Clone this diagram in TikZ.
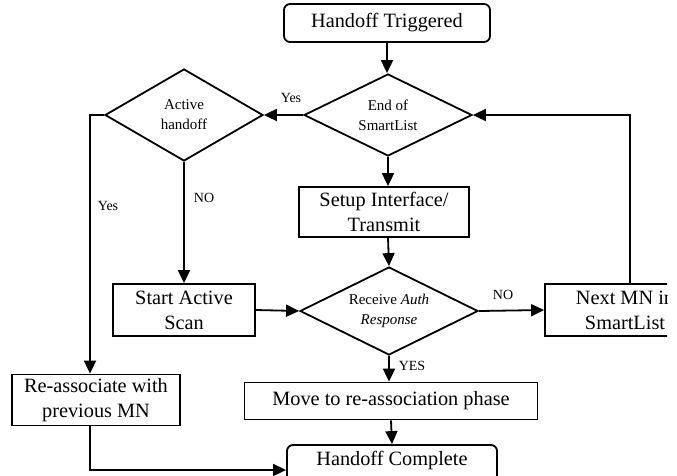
\documentclass[tikz,border=0pt]{standalone}
\usepackage{fontspec}
\setmainfont{Liberation Serif}
\usetikzlibrary{shapes.geometric,arrows.meta}
\begin{document}
\begin{tikzpicture}[x=1pt,y=-1pt, line width=1.8pt,
 box/.style={draw, rectangle, inner sep=0pt, align=center, font=\fontsize{20.3}{25}\selectfont},
 rbox/.style={box, rounded corners=6pt},
 dec/.style={draw, diamond, aspect=2, inner sep=0pt, align=center, font=\fontsize{15}{20}\selectfont},
 arr/.style={-{Triangle[length=13pt,width=12pt]}},
 lbl/.style={font=\fontsize{14}{16}\selectfont, inner sep=0pt}]
\useasboundingbox (0,0) rectangle (677,475);
\clip (0,0) rectangle (667,475);
\node[rbox, minimum width=206pt, minimum height=38pt] (trig) at (387,23) {Handoff Triggered};
\node[dec, minimum width=168pt, minimum height=82pt] (end) at (388,115) {End of\\SmartList};
\node[dec, minimum width=158pt, minimum height=92pt] (act) at (184,115) {Active\\handoff};
\node[box, minimum width=170pt, minimum height=50pt] (setup) at (384,212) {Setup Interface/\\Transmit};
\node[dec, minimum width=178pt, minimum height=88pt] (recv) at (389,311) {Receive \textit{Auth}\\\textit{Response}};
\node[box, minimum width=142pt, minimum height=52pt] (scan) at (184,310) {Start Active\\Scan};
\node[box, minimum width=160pt, minimum height=52pt] (next) at (625,310) {Next MN in\\SmartList};
\node[box, minimum width=168pt, minimum height=51pt] (reas) at (96,400) {Re-associate with\\previous MN};
\node[box, minimum width=293pt, minimum height=37pt] (move) at (391,401) {Move to re-association phase};
\node[rbox, minimum width=210pt, minimum height=50pt, text height=14pt, text depth=24pt] (comp) at (392,470) {Handoff Complete};
\coordinate (lx) at (90,115);
\draw[arr] (trig.south) -- (trig.south |- end.north);
\draw[arr] (end.west) -- (act.east);
\draw[arr] (end.south) -- (end.south |- setup.north);
\draw[arr] (end.south |- setup.south) -- (recv.north);
\draw[arr] (act.south) -- (scan.north);
\draw[arr] (scan.east) -- (recv.west);
\draw[arr] (recv.east) -- (next.west);
\draw[arr] (act.west) -- (lx) -- (lx |- reas.north);
\draw[arr] ([xshift=5pt]next.north) -- ([xshift=5pt]next.north |- end.east) -- (end.east);
\draw[arr] (recv.south) -- (recv.south |- move.north);
\draw[arr] (move.south) -- (comp.north);
\draw[arr] (lx |- reas.south) -- (lx |- comp.west) -- (comp.west);
\node[lbl] (l1) at (291,98) {Yes};
\node[lbl] (l2) at (108,206) {Yes};
\node[lbl] (l3) at (204,198) {NO};
\node[lbl] (l4) at (503,295) {NO};
\node[lbl] (l5) at (412,366) {YES};
\end{tikzpicture}
\end{document}
